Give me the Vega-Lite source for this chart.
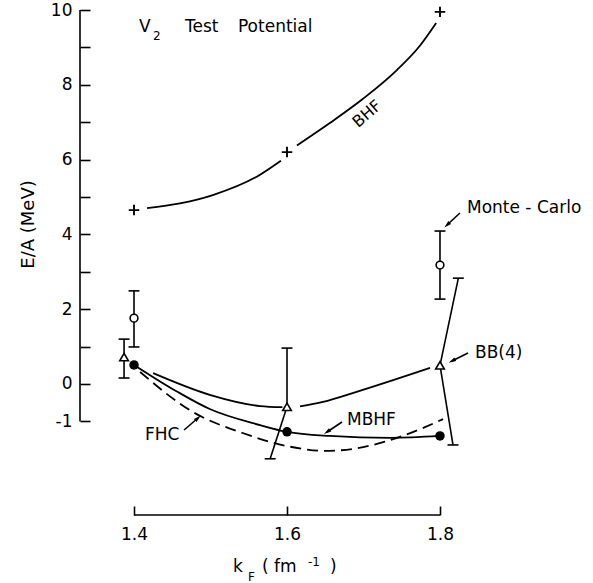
{
  "$schema": "https://vega.github.io/schema/vega-lite/v6.json",
  "width": 482,
  "height": 505,
  "autosize": {"type": "none"},
  "padding": {"left": 80, "top": 10, "right": 31, "bottom": 68},
  "background": "white",
  "config": {"view": {"stroke": null}, "font": "DejaVu Sans"},
  "datasets": {
    "curves": [
      {"curve": "BHF-a", "x": 1.417, "y": 4.7},
      {"curve": "BHF-a", "x": 1.503, "y": 5.05},
      {"curve": "BHF-a", "x": 1.561, "y": 5.55},
      {"curve": "BHF-a", "x": 1.592, "y": 5.97},
      {"curve": "BHF-b", "x": 1.613, "y": 6.38},
      {"curve": "BHF-b", "x": 1.656, "y": 6.98},
      {"curve": "BHF-b", "x": 1.699, "y": 7.62},
      {"curve": "BHF-b", "x": 1.744, "y": 8.4},
      {"curve": "BHF-b", "x": 1.774, "y": 9.05},
      {"curve": "BHF-b", "x": 1.795, "y": 9.65},
      {"curve": "BB4-a", "x": 1.425, "y": 0.29},
      {"curve": "BB4-a", "x": 1.499, "y": -0.29},
      {"curve": "BB4-a", "x": 1.565, "y": -0.59},
      {"curve": "BB4-a", "x": 1.594, "y": -0.62},
      {"curve": "BB4-b", "x": 1.617, "y": -0.6},
      {"curve": "BB4-b", "x": 1.647, "y": -0.48},
      {"curve": "BB4-b", "x": 1.691, "y": -0.21},
      {"curve": "BB4-b", "x": 1.787, "y": 0.43},
      {"curve": "MBHF", "x": 1.4, "y": 0.51},
      {"curve": "MBHF", "x": 1.456, "y": -0.2},
      {"curve": "MBHF", "x": 1.499, "y": -0.67},
      {"curve": "MBHF", "x": 1.565, "y": -1.1},
      {"curve": "MBHF", "x": 1.6, "y": -1.28},
      {"curve": "MBHF", "x": 1.656, "y": -1.39},
      {"curve": "MBHF", "x": 1.735, "y": -1.44},
      {"curve": "MBHF", "x": 1.8, "y": -1.39},
      {"curve": "FHC", "x": 1.408, "y": 0.32},
      {"curve": "FHC", "x": 1.477, "y": -0.75},
      {"curve": "FHC", "x": 1.542, "y": -1.31},
      {"curve": "FHC", "x": 1.6, "y": -1.66},
      {"curve": "FHC", "x": 1.65, "y": -1.79},
      {"curve": "FHC", "x": 1.691, "y": -1.72},
      {"curve": "FHC", "x": 1.744, "y": -1.44},
      {"curve": "FHC", "x": 1.804, "y": -0.94}
    ],
    "points": [
      {"series": "BHF", "x": 1.4, "y": 4.65},
      {"series": "BHF", "x": 1.6, "y": 6.2},
      {"series": "BHF", "x": 1.8, "y": 9.95},
      {"series": "Monte-Carlo", "x": 1.4, "y": 1.76},
      {"series": "Monte-Carlo", "x": 1.8, "y": 3.18},
      {"series": "BB(4)", "x": 1.387, "y": 0.72},
      {"series": "BB(4)", "x": 1.6, "y": -0.61},
      {"series": "BB(4)", "x": 1.8, "y": 0.5},
      {"series": "MBHF", "x": 1.4, "y": 0.51},
      {"series": "MBHF", "x": 1.6, "y": -1.28},
      {"series": "MBHF", "x": 1.8, "y": -1.39}
    ],
    "errorbars": [
      {"x": 1.4, "y": 0.99, "x2": 1.4, "y2": 2.49},
      {"x": 1.8, "y": 2.27, "x2": 1.8, "y2": 4.09},
      {"x": 1.387, "y": 0.16, "x2": 1.387, "y2": 1.2},
      {"x": 1.6, "y": -0.61, "x2": 1.6, "y2": 0.96},
      {"x": 1.6, "y": -0.61, "x2": 1.578, "y2": -2.0},
      {"x": 1.8, "y": 0.5, "x2": 1.824, "y2": 2.83},
      {"x": 1.8, "y": 0.5, "x2": 1.817, "y2": -1.63}
    ],
    "caps": [
      {"x": 1.4, "y": 0.99}, {"x": 1.4, "y": 2.49},
      {"x": 1.8, "y": 2.27}, {"x": 1.8, "y": 4.09},
      {"x": 1.387, "y": 0.16}, {"x": 1.387, "y": 1.2},
      {"x": 1.6, "y": 0.96}, {"x": 1.578, "y": -2.0},
      {"x": 1.824, "y": 2.83}, {"x": 1.817, "y": -1.63}
    ],
    "arrows": [
      {"label": "Monte-Carlo", "x": 1.8261, "y": 4.572, "x2": 1.8092, "y2": 4.251},
      {"label": "BB(4)", "x": 1.8366, "y": 0.829, "x2": 1.8157, "y2": 0.615},
      {"label": "MBHF", "x": 1.6719, "y": -1.016, "x2": 1.6523, "y2": -1.283},
      {"label": "FHC", "x": 1.4654, "y": -1.23, "x2": 1.4837, "y2": -0.909}
    ],
    "heads": [
      {"label": "Monte-Carlo", "x": 1.8092, "y": 4.251},
      {"label": "BB(4)", "x": 1.8157, "y": 0.615},
      {"label": "MBHF", "x": 1.6523, "y": -1.283},
      {"label": "FHC", "x": 1.4837, "y": -0.909}
    ],
    "labels": [
      {"text": "V", "x": 1.4065, "y": 9.55},
      {"text": "Test", "x": 1.4667, "y": 9.55},
      {"text": "Potential", "x": 1.5359, "y": 9.55},
      {"text": "Monte - Carlo", "x": 1.8353, "y": 4.706},
      {"text": "BB(4)", "x": 1.8458, "y": 0.829},
      {"text": "MBHF", "x": 1.6784, "y": -0.963},
      {"text": "FHC", "x": 1.4144, "y": -1.364},
      {"text": "k", "x": 1.5294, "y": -4.9},
      {"text": "( fm", "x": 1.5673, "y": -4.9},
      {"text": ")", "x": 1.6562, "y": -4.9}
    ],
    "small": [
      {"text": "2", "x": 1.4248, "y": 9.3},
      {"text": "F", "x": 1.549, "y": -5.16},
      {"text": "-1", "x": 1.6275, "y": -4.75}
    ]
  },
  "encoding": {
    "x": {
      "field": "x", "type": "quantitative",
      "scale": {"domain": [1.3294, 1.9595], "nice": false, "zero": false},
      "axis": {
        "values": [1.4, 1.6, 1.8], "format": ".1f",
        "domain": false, "grid": false,
        "tickSize": -9, "tickColor": "black", "tickWidth": 1.6,
        "labelPadding": 20, "labelFont": "DejaVu Sans", "labelFontSize": 17, "labelColor": "black",
        "labelFlush": false, "labelOverlap": false,
        "title": null
      }
    },
    "y": {
      "field": "y", "type": "quantitative",
      "scale": {"domain": [-3.503, 10], "nice": false, "zero": false},
      "axis": {
        "values": [-1, 0, 1, 2, 3, 4, 5, 6, 7, 8, 9, 10],
        "labelExpr": "datum.value == -1 ? '-1' : (datum.value % 2 == 0 ? '' + datum.value : '')",
        "domain": false, "grid": false,
        "tickSize": -10, "tickColor": "black", "tickWidth": 1.6,
        "labelPadding": 18, "labelFont": "DejaVu Sans", "labelFontSize": 17, "labelColor": "black",
        "labelFlush": false, "labelOverlap": false,
        "title": "E/A (MeV)", "titleFont": "DejaVu Sans", "titleFontSize": 18, "titleFontWeight": "normal",
        "titleColor": "black", "titleX": -47, "titleY": 214, "titleAngle": -90,
        "titleAlign": "center", "titleBaseline": "alphabetic"
      }
    }
  },
  "layer": [
    {
      "data": {"values": [{"x": 1.3294, "y": -1, "y2": 10}]},
      "mark": {"type": "rule", "color": "black", "strokeWidth": 1.6},
      "encoding": {"y2": {"field": "y2"}}
    },
    {
      "data": {"values": [{"x": 1.4, "x2": 1.8, "y": -3.503}]},
      "mark": {"type": "rule", "color": "black", "strokeWidth": 1.6},
      "encoding": {"x2": {"field": "x2"}}
    },
    {
      "data": {"name": "curves"},
      "transform": [{"filter": "datum.curve != 'FHC'"}],
      "mark": {"type": "line", "color": "black", "strokeWidth": 1.8, "interpolate": "monotone"},
      "encoding": {"detail": {"field": "curve"}}
    },
    {
      "data": {"name": "curves"},
      "transform": [{"filter": "datum.curve == 'FHC'"}],
      "mark": {"type": "line", "color": "black", "strokeWidth": 1.8, "interpolate": "monotone", "strokeDash": [11, 6]},
      "encoding": {"detail": {"field": "curve"}}
    },
    {
      "data": {"name": "errorbars"},
      "mark": {"type": "rule", "color": "black", "strokeWidth": 1.6},
      "encoding": {"x2": {"field": "x2"}, "y2": {"field": "y2"}}
    },
    {
      "data": {"name": "caps"},
      "mark": {"type": "point", "shape": "M-1,0L1,0", "size": 120, "filled": false, "stroke": "black", "strokeWidth": 1.6, "opacity": 1}
    },
    {
      "data": {"name": "arrows"},
      "mark": {"type": "rule", "color": "black", "strokeWidth": 1.6},
      "encoding": {"x2": {"field": "x2"}, "y2": {"field": "y2"}}
    },
    {
      "data": {"name": "heads"},
      "transform": [{"filter": "datum.label == 'Monte-Carlo'"}],
      "mark": {"type": "point", "shape": "M0,-1L0.55,1L-0.55,1Z", "size": 55, "filled": true, "color": "black", "opacity": 1, "angle": 227}
    },
    {
      "data": {"name": "heads"},
      "transform": [{"filter": "datum.label == 'BB(4)'"}],
      "mark": {"type": "point", "shape": "M0,-1L0.55,1L-0.55,1Z", "size": 55, "filled": true, "color": "black", "opacity": 1, "angle": 243}
    },
    {
      "data": {"name": "heads"},
      "transform": [{"filter": "datum.label == 'MBHF'"}],
      "mark": {"type": "point", "shape": "M0,-1L0.55,1L-0.55,1Z", "size": 55, "filled": true, "color": "black", "opacity": 1, "angle": 236}
    },
    {
      "data": {"name": "heads"},
      "transform": [{"filter": "datum.label == 'FHC'"}],
      "mark": {"type": "point", "shape": "M0,-1L0.55,1L-0.55,1Z", "size": 55, "filled": true, "color": "black", "opacity": 1, "angle": 49}
    },
    {
      "data": {"name": "points"},
      "transform": [{"filter": "datum.series == 'BHF'"}],
      "mark": {"type": "point", "shape": "M-1,0L1,0M0,-1L0,1", "size": 110, "filled": false, "stroke": "black", "strokeWidth": 1.9, "opacity": 1}
    },
    {
      "data": {"name": "points"},
      "transform": [{"filter": "datum.series == 'Monte-Carlo'"}],
      "mark": {"type": "point", "shape": "circle", "size": 60, "fill": "white", "stroke": "black", "strokeWidth": 1.6, "opacity": 1}
    },
    {
      "data": {"name": "points"},
      "transform": [{"filter": "datum.series == 'BB(4)'"}],
      "mark": {"type": "point", "shape": "triangle-up", "size": 75, "fill": "white", "stroke": "black", "strokeWidth": 1.6, "opacity": 1}
    },
    {
      "data": {"name": "points"},
      "transform": [{"filter": "datum.series == 'MBHF'"}],
      "mark": {"type": "point", "shape": "circle", "size": 90, "filled": true, "color": "black", "opacity": 1}
    },
    {
      "data": {"name": "labels"},
      "mark": {"type": "text", "align": "left", "baseline": "middle", "font": "DejaVu Sans", "fontSize": 17, "color": "black"},
      "encoding": {"text": {"field": "text"}}
    },
    {
      "data": {"name": "small"},
      "mark": {"type": "text", "align": "left", "baseline": "middle", "font": "DejaVu Sans", "fontSize": 12, "color": "black"},
      "encoding": {"text": {"field": "text"}}
    },
    {
      "data": {"values": [{"text": "BHF", "x": 1.7046, "y": 7.22}]},
      "mark": {"type": "text", "align": "center", "baseline": "middle", "font": "DejaVu Sans", "fontSize": 16, "color": "black", "angle": -41},
      "encoding": {"text": {"field": "text"}}
    }
  ]
}
